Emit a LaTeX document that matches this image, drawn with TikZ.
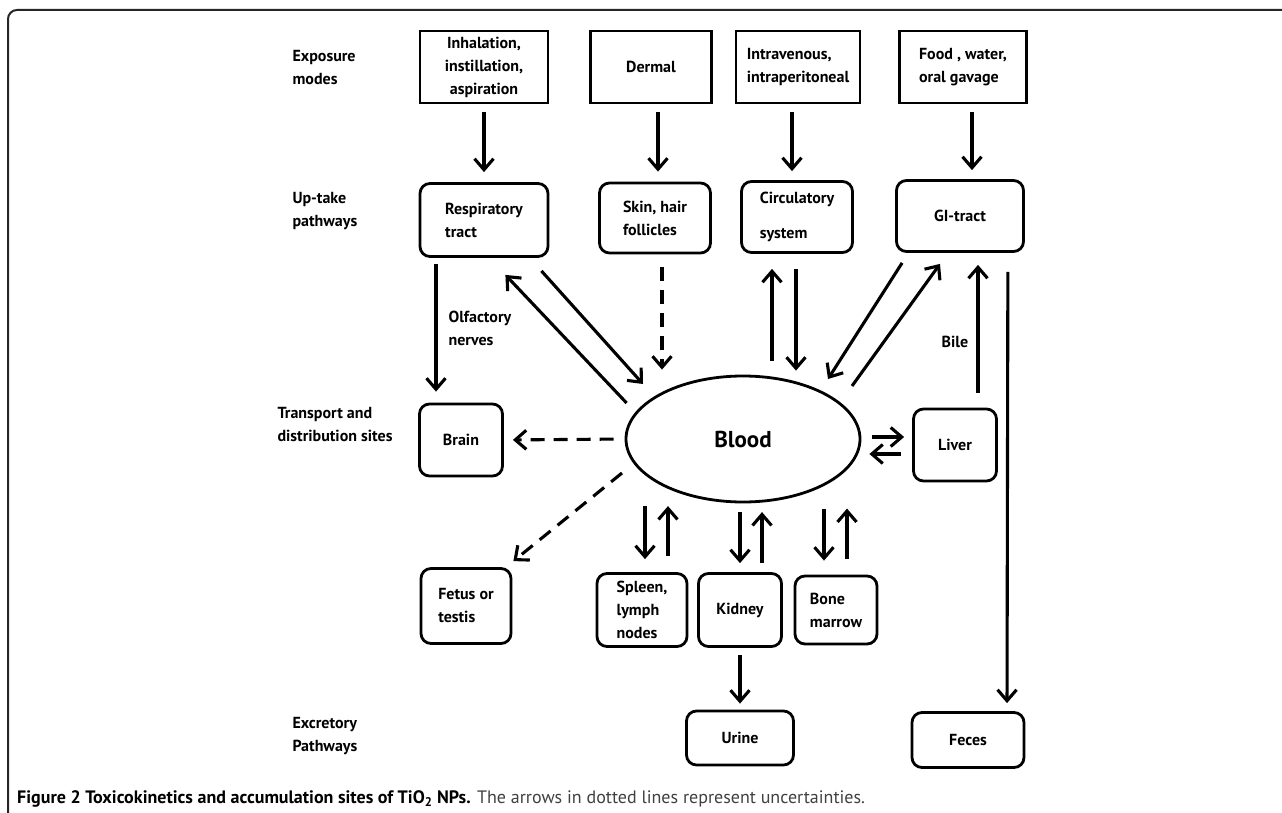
\documentclass[tikz,border=0pt]{standalone}
\usepackage{fontspec}
\setmainfont{PT Sans}
\usetikzlibrary{shapes.geometric,arrows.meta}

\begin{document}
\begin{tikzpicture}[x=1pt,y=-1pt,
  txt/.style={font=\fontsize{16}{23}\selectfont\bfseries},
  expbox/.style={txt,draw,line width=2.8pt,inner sep=0pt,align=center},
  sitebox/.style={expbox,rounded corners=10pt},
  lbl/.style={txt,align=left,anchor=west},
  arr/.style={-{Straight Barb[length=11pt,width=19pt]},line width=3.1pt},
  dsh/.style={arr,dash pattern=on 14pt off 9pt}]
\useasboundingbox (0,0) rectangle (1282,813);
\draw[line width=2pt,black!85,rounded corners=9pt] (1284,10) -- (8,10) -- (8,815);

% row labels
\node[lbl] (l1) at (289,68) {Exposure\\modes};
\node[lbl] (l2) at (289,211) {Up-take\\pathways};
\node[lbl] (l3) at (274,425) {Transport and\\distribution sites};
\node[lbl] (l4) at (289,736) {Excretory\\Pathways};

% exposure modes
\node[expbox,minimum width=128pt,minimum height=72pt] (inh) at (484,67) {Inhalation,\\instillation,\\aspiration};
\node[expbox,minimum width=121pt,minimum height=72pt] (derm) at (651,67) {Dermal};
\node[expbox,minimum width=124pt,minimum height=72pt,align=left] (iv) at (798,67) {Intravenous,\\intraperitoneal};
\node[expbox,minimum width=127pt,minimum height=72pt,align=left] (food) at (963,67) {Food , water,\\oral gavage};

% up-take pathways
\node[sitebox,minimum width=128pt,minimum height=73pt,align=left] (resp) at (484,220) {Respiratory\\tract};
\node[sitebox,minimum width=111pt,minimum height=70pt,align=left] (skin) at (655,218) {Skin, hair\\follicles};
\node[sitebox,minimum width=111pt,minimum height=71pt,align=left] (circ) at (797,217) {Circulatory\\[12pt]system};
\node[sitebox,minimum width=127pt,minimum height=71pt] (gi) at (960,216) {GI-tract};

% transport and distribution
\node[ellipse,draw,line width=2.8pt,inner sep=0pt,minimum width=234pt,minimum height=126pt,
  font=\fontsize{23}{26}\selectfont\bfseries] (blood) at (743,439) {Blood};
\node[sitebox,minimum width=83pt,minimum height=72pt] (brain) at (461,440) {Brain};
\node[sitebox,minimum width=83pt,minimum height=72pt] (liver) at (955,445) {Liver};
\node[sitebox,minimum width=90pt,minimum height=75pt,align=left] (fetus) at (466,606) {Fetus or\\testis};
\node[sitebox,minimum width=90pt,minimum height=73pt,align=left] (spleen) at (642,610) {Spleen,\\lymph\\nodes};
\node[sitebox,minimum width=83pt,minimum height=73pt] (kidney) at (740,610) {Kidney};
\node[sitebox,minimum width=82pt,minimum height=68pt,align=left] (bone) at (836,610) {Bone\\marrow};

% excretory
\node[sitebox,minimum width=107pt,minimum height=54pt] (urine) at (740,738) {Urine};
\node[sitebox,minimum width=112pt,minimum height=55pt] (feces) at (968,740) {Feces};

% exposure -> up-take
\draw[arr,shorten <=8pt,shorten >=10pt] (inh.south) -- (resp.north);
\draw[arr,shorten <=8pt,shorten >=10pt] ([xshift=7pt]derm.south) -- ([xshift=3pt]skin.north);
\draw[arr,shorten <=8pt,shorten >=9pt] ([xshift=-6pt]iv.south) -- ([xshift=-5pt]circ.north);
\draw[arr,shorten <=8pt,shorten >=9pt] ([xshift=9pt]food.south) -- ([xshift=12pt]gi.north);

% up-take <-> blood
\draw[arr,shorten <=6pt,shorten >=11pt] ([xshift=-48pt]resp.south) -- ([xshift=-25pt]brain.north);
\node[lbl] (olf) at (445,328) {Olfactory\\nerves};
\draw[arr] ([xshift=2pt,yshift=36pt]blood.west) -- ([xshift=-44pt,yshift=-17pt]resp.south east);
\draw[arr] ([xshift=-8pt,yshift=-13pt]resp.south east) -- ([xshift=-100pt,yshift=55pt]blood.center);
\draw[dsh] ([xshift=7pt,yshift=-13pt]skin.south) -- ([xshift=-81pt,yshift=5pt]blood.north);
\draw[arr,shorten <=14pt,shorten >=15pt] ([xshift=29pt]blood.north) -- ([xshift=-25pt]circ.south);
\draw[arr,shorten <=15pt,shorten >=4pt] ([xshift=-1pt]circ.south) -- ([xshift=53pt]blood.north);
\draw[arr] ([xshift=7pt,yshift=-10pt]gi.south west) -- ([xshift=85pt,yshift=60pt]blood.center);
\draw[arr] ([xshift=109pt,yshift=53pt]blood.center) -- ([xshift=-20pt,yshift=-11pt]gi.south);
\draw[arr,shorten <=15pt,shorten >=12pt] ([xshift=23pt]liver.north) -- ([xshift=18pt]gi.south);
\node[txt] (bile) at (955,342) {Bile};
\draw[arr,shorten <=19pt,shorten >=8pt] ([xshift=-17pt]gi.south east) -- ([xshift=39pt]feces.north);

% blood <-> sites
\draw[arr,shorten <=11pt,shorten >=8pt] ([yshift=2pt]blood.east) -- ([yshift=8pt]liver.west);
\draw[arr,shorten <=11pt,shorten >=8pt] ([yshift=-9pt]liver.west) -- ([yshift=-15pt]blood.east);
\draw[dsh,shorten <=11pt,shorten >=9pt] (blood.west) -- (brain.east);
\draw[dsh] ([xshift=-121pt,yshift=-34pt]blood.center) -- ([xshift=1pt,yshift=6pt]fetus.north east);
\draw[arr] ([xshift=3pt,yshift=66pt]spleen.north) -- ([xshift=3pt,yshift=13pt]spleen.north);
\draw[arr] ([xshift=26pt,yshift=16pt]spleen.north) -- ([xshift=26pt,yshift=66pt]spleen.north);
\draw[arr] ([yshift=60pt]kidney.north) -- ([yshift=9pt]kidney.north);
\draw[arr] ([xshift=22pt,yshift=9pt]kidney.north) -- ([xshift=22pt,yshift=60pt]kidney.north);
\draw[arr] ([xshift=-12pt,yshift=66pt]bone.north) -- ([xshift=-12pt,yshift=14pt]bone.north);
\draw[arr] ([xshift=11pt,yshift=16pt]bone.north) -- ([xshift=11pt,yshift=66pt]bone.north);

% excretion
\draw[arr,shorten <=7pt,shorten >=6pt] (kidney.south) -- (urine.north);

% caption
\node[anchor=base west,inner sep=0pt,font=\fontsize{18}{20}\selectfont] (cap) at (17,803)
  {\textbf{Figure 2 Toxicokinetics and accumulation sites of TiO\textsubscript{2} NPs.}
   \textcolor{black!75}{The arrows in dotted lines represent uncertainties.}};
\end{tikzpicture}
\end{document}
